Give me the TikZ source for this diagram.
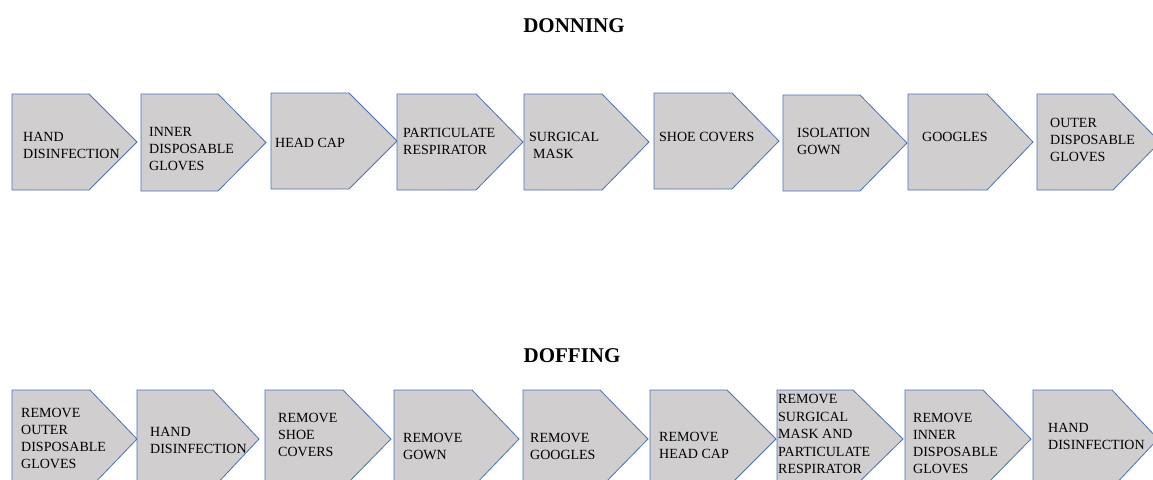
\documentclass[tikz,border=0pt]{standalone}
\usepackage{fontspec}
\setmainfont{Liberation Serif}
\definecolor{chevfill}{HTML}{D0CECE}
\definecolor{chevline}{HTML}{4A72B8}
\newcommand\mychev[5]{%
  \draw[chev] (#1,#2) -- (#3,#2) -- (#4,{(#2+#5)/2}) -- (#3,#5) -- (#1,#5) -- cycle;}
\begin{document}
\begin{tikzpicture}[x=1pt,y=-1pt,
  chev/.style={draw=chevline,fill=chevfill,line width=0.8pt,line join=miter},
  lbl/.style={anchor=north west,inner sep=0pt,align=left,
    font=\fontsize{14}{17}\selectfont},
  ttl/.style={anchor=north,inner sep=0pt,font=\fontsize{21}{24}\selectfont\bfseries}]
\useasboundingbox (0,0) rectangle (1153,479);
\clip (0,0) rectangle (1153,479);
% titles
\node[ttl] (tdon) at (574,18) {DONNING};
\node[ttl] (tdof) at (572,348) {DOFFING};
% donning row
\mychev{12}{94}{89}{137}{190}
\mychev{141}{94}{218}{266}{191}
\mychev{271}{93}{349}{397}{189}
\mychev{397}{94}{476}{523}{190}
\mychev{524}{94}{602}{649}{190}
\mychev{654}{93}{732}{779}{189}
\mychev{783}{95}{860}{907}{191}
\mychev{908}{94}{987}{1033}{190}
\mychev{1037}{94}{1113}{1160}{190}
\node[lbl] (d1) at (23,132) {HAND\\DISINFECTION};
\node[lbl] (d2) at (149,127) {INNER\\DISPOSABLE\\GLOVES};
\node[lbl] (d3) at (275,138) {HEAD CAP};
\node[lbl] (d4) at (403,128) {PARTICULATE\\RESPIRATOR};
\node[lbl] (d5) at (529,132) {SURGICAL\\\hspace{4pt}MASK};
\node[lbl] (d6) at (659,132) {SHOE COVERS};
\node[lbl] (d7) at (797,128) {ISOLATION\\GOWN};
\node[lbl] (d8) at (922,132) {GOOGLES};
\node[lbl] (d9) at (1050,118) {OUTER\\DISPOSABLE\\GLOVES};
% doffing row
\mychev{12}{390}{90}{137}{488}
\mychev{137}{390}{213}{259}{488}
\mychev{265}{390}{343}{391}{488}
\mychev{394}{390}{472}{519}{488}
\mychev{523}{390}{600}{648}{488}
\mychev{650}{390}{727}{776}{488}
\mychev{777}{390}{853}{903}{488}
\mychev{905}{390}{983}{1031}{488}
\mychev{1033}{390}{1112}{1158}{488}
\node[lbl] (f1) at (21,408) {REMOVE\\OUTER\\DISPOSABLE\\GLOVES};
\node[lbl] (f2) at (150,427) {HAND\\DISINFECTION};
\node[lbl] (f3) at (278,413) {REMOVE\\SHOE\\COVERS};
\node[lbl] (f4) at (403,433) {REMOVE\\GOWN};
\node[lbl] (f5) at (530,433) {REMOVE\\GOOGLES};
\node[lbl] (f6) at (659,432) {REMOVE\\HEAD CAP};
\node[lbl,font=\fontsize{14}{17.6}\selectfont] (f7) at (778,394) {REMOVE\\SURGICAL\\MASK AND\\PARTICULATE\\RESPIRATOR};
\node[lbl] (f8) at (913,413) {REMOVE\\INNER\\DISPOSABLE\\GLOVES};
\node[lbl] (f9) at (1048,423) {HAND\\DISINFECTION};
\end{tikzpicture}
\end{document}
